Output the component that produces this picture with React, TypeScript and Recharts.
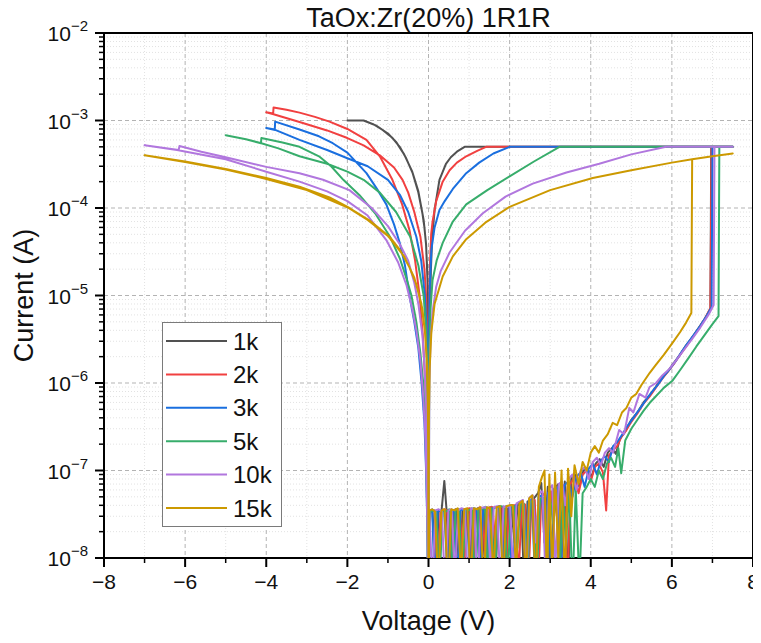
import React from 'react';
import { LineChart, Line, XAxis, YAxis, CartesianGrid, Legend, ReferenceArea, Customized } from 'recharts';

type Pt = [number, number];

const FONT = '"Liberation Sans", Arial, Helvetica, sans-serif';

const seriesNames = ['1k', '2k', '3k', '5k', '10k', '15k'];
const seriesColors = ['#515151', '#F14040', '#1A6FDF', '#37AD6B', '#B177DE', '#CC9900'];

// ---- 1k ----
const neg1k: Pt[] = [
  [0, 1e-9], [-0.002, 1e-6], [-0.006, 3.5e-6], [-0.015, 9e-6], [-0.03, 1.9e-5], [-0.06, 3.8e-5], [-0.1, 6e-5],
  [-0.15, 8.7e-5], [-0.25, 1.5e-4], [-0.39, 2.5e-4], [-0.55, 3.7e-4], [-0.71, 5e-4], [-0.9, 6.4e-4], [-1.13, 7.8e-4],
  [-1.35, 9e-4], [-1.6, 1e-3], [-2.0, 1e-3],
  [-1.6, 1e-3], [-1.3, 8.8e-4], [-1.0, 7.1e-4], [-0.8, 5.7e-4], [-0.6, 4.1e-4], [-0.4, 2.6e-4], [-0.25, 1.55e-4],
  [-0.12, 7.3e-5], [-0.06, 3.9e-5], [-0.02, 1.3e-5], [-0.005, 3e-6], [0, 1e-9],
];
const pos1k: Pt[] = [
  [0.02, 3.4e-8], [0.1, 3.3e-8], [0.18, 5e-9], [0.25, 3.5e-8], [0.32, 3.4e-8], [0.39, 7.6e-8], [0.45, 3.3e-8], [0.52, 4e-9],
  [0.6, 3.5e-8], [0.68, 3.6e-8], [0.76, 6e-9], [0.84, 3.5e-8], [0.92, 3.6e-8], [1.0, 3.4e-8], [1.08, 5e-9], [1.16, 3.6e-8],
  [1.24, 3.7e-8], [1.32, 8e-9], [1.4, 3.6e-8], [1.48, 3.7e-8], [1.56, 3.8e-8], [1.64, 4e-9], [1.72, 3.8e-8], [1.8, 3.7e-8],
  [1.88, 6e-9], [1.96, 3.8e-8], [2.04, 3.9e-8], [2.12, 1.5e-8], [2.2, 4e-8], [2.28, 4.1e-8], [2.36, 5e-9], [2.44, 4.4e-8],
  [2.52, 4.6e-8], [2.6, 4.8e-8], [2.7, 5.5e-8], [2.78, 7.2e-8], [2.86, 1.5e-8], [2.94, 6.5e-8], [3.02, 4e-9], [3.1, 6.2e-8],
  [3.2, 7e-8], [3.28, 1.2e-8], [3.36, 7.5e-8], [3.44, 5e-9], [3.52, 8e-8], [3.62, 9e-8], [3.72, 6.5e-8], [3.82, 1e-7],
  [3.92, 1.05e-7], [4.02, 8.5e-8], [4.12, 1.2e-7], [4.22, 1.35e-7], [4.32, 1.1e-7], [4.42, 1.6e-7], [4.52, 1.8e-7],
  [4.62, 1.55e-7], [4.72, 2.3e-7], [4.85, 2.8e-7], [5.0, 3.8e-7], [5.15, 4.6e-7], [5.3, 6e-7], [5.45, 7.2e-7], [5.6, 9e-7],
  [5.75, 1.15e-6], [5.9, 1.35e-6], [6.05, 1.7e-6], [6.2, 2.1e-6], [6.35, 2.7e-6], [6.5, 3.3e-6], [6.65, 4.2e-6],
  [6.8, 5.3e-6], [6.95, 7e-6], [6.97, 5e-4], [7.5, 5e-4], [0.89, 5e-4], [0.7, 4.4e-4], [0.55, 3.8e-4], [0.43, 3.2e-4],
  [0.27, 2.1e-4], [0.15, 9.5e-5], [0.09, 4.5e-5], [0.06, 2e-5], [0.03, 6e-6], [0.01, 1.2e-6], [0, 1e-9],
];

// ---- 2k ----
const neg2k: Pt[] = [
  [0, 1e-9], [-0.003, 1.5e-7], [-0.008, 4e-7], [-0.015, 1e-6], [-0.03, 3e-6], [-0.06, 1e-5], [-0.1, 2e-5], [-0.2, 4.7e-5],
  [-0.35, 9e-5], [-0.5, 1.5e-4], [-0.64, 2.1e-4], [-0.85, 2.9e-4], [-1.2, 4e-4], [-1.6, 5.2e-4], [-2.0, 6.3e-4],
  [-2.5, 7.7e-4], [-3.18, 9.6e-4], [-3.82, 1.18e-3], [-4.0, 1.24e-3], [-3.83, 1.2e-3], [-3.82, 1.41e-3],
  [-3.5, 1.33e-3], [-3.18, 1.23e-3], [-2.8, 1.1e-3], [-2.44, 9.7e-4], [-2.0, 8e-4], [-1.53, 6e-4], [-1.2, 3.9e-4],
  [-0.89, 2.1e-4], [-0.65, 1.1e-4], [-0.47, 5.6e-5], [-0.33, 2.5e-5], [-0.22, 1e-5], [-0.14, 3.5e-6], [-0.08, 1e-6],
  [-0.05, 3.5e-7], [-0.03, 1e-7], [-0.015, 2e-8], [0, 1e-9],
];
const pos2k: Pt[] = [
  [0.02, 3.5e-8], [0.08, 3.4e-8], [0.15, 3.5e-8], [0.22, 6e-9], [0.3, 3.4e-8], [0.38, 3.6e-8], [0.46, 3.5e-8], [0.54, 5e-9],
  [0.62, 3.5e-8], [0.7, 3.6e-8], [0.78, 3.5e-8], [0.86, 4e-9], [0.94, 3.6e-8], [1.02, 3.7e-8], [1.1, 7e-9], [1.18, 3.6e-8],
  [1.26, 3.8e-8], [1.34, 3.7e-8], [1.42, 5e-9], [1.5, 3.8e-8], [1.58, 3.8e-8], [1.66, 1.2e-8], [1.74, 3.9e-8], [1.82, 3.8e-8],
  [1.9, 4e-9], [1.98, 3.9e-8], [2.06, 4e-8], [2.14, 4e-8], [2.22, 6e-9], [2.3, 4.2e-8], [2.38, 4.1e-8], [2.46, 5e-9],
  [2.54, 4.4e-8], [2.62, 4.6e-8], [2.7, 4e-9], [2.78, 5e-8], [2.86, 5.5e-8], [2.94, 8e-9], [3.02, 5.8e-8], [3.1, 3e-8],
  [3.18, 6.5e-8], [3.26, 5e-9], [3.34, 6.8e-8], [3.42, 4e-9], [3.5, 7e-8], [3.6, 8.5e-8], [3.7, 5.5e-8], [3.8, 9e-8],
  [3.9, 1e-7], [4.0, 7.5e-8], [4.1, 1.1e-7], [4.2, 1.2e-7], [4.3, 9.5e-8], [4.38, 3.5e-8], [4.45, 1.5e-7], [4.55, 1.7e-7],
  [4.65, 1.9e-7], [4.75, 2.4e-7], [4.88, 2.9e-7], [5.0, 3.6e-7], [5.15, 4.5e-7], [5.3, 5.8e-7], [5.45, 7e-7], [5.6, 8.8e-7],
  [5.75, 1.1e-6], [5.9, 1.35e-6], [6.05, 1.65e-6], [6.2, 2.1e-6], [6.35, 2.6e-6], [6.5, 3.3e-6], [6.65, 4.1e-6],
  [6.8, 5.3e-6], [6.95, 7.2e-6], [6.98, 5e-4], [7.5, 5e-4], [1.42, 5e-4], [1.2, 4.5e-4], [0.93, 3.9e-4], [0.7, 3.3e-4],
  [0.52, 2.7e-4], [0.35, 2e-4], [0.19, 1.2e-4], [0.1, 7e-5], [0.066, 5e-5], [0.04, 2.5e-5], [0.02, 8e-6], [0.008, 2e-6],
  [0, 1e-9],
];

// ---- 3k ----
const neg3k: Pt[] = [
  [0, 1e-9], [-0.008, 2.5e-7], [-0.02, 1e-6], [-0.045, 4e-6], [-0.09, 1e-5], [-0.18, 2.5e-5], [-0.3, 4.7e-5], [-0.5, 9e-5],
  [-0.7, 1.4e-4], [-1.0, 2.1e-4], [-1.5, 3e-4], [-2.0, 3.7e-4], [-2.5, 4.6e-4], [-3.18, 6e-4], [-3.78, 7.8e-4],
  [-4.0, 8.2e-4], [-3.79, 7.9e-4], [-3.78, 9.7e-4], [-3.18, 7.9e-4], [-2.7, 6.6e-4], [-2.36, 5.5e-4], [-2.0, 4.3e-4],
  [-1.53, 2.5e-4], [-1.25, 1.6e-4], [-1.04, 1.1e-4], [-0.85, 6.5e-5], [-0.71, 4e-5], [-0.58, 2.2e-5], [-0.47, 1e-5],
  [-0.35, 5e-6], [-0.25, 2.5e-6], [-0.17, 1e-6], [-0.1, 3.5e-7], [-0.06, 1e-7], [-0.03, 2.5e-8], [0, 1e-9],
];
const pos3k: Pt[] = [
  [0.02, 3.2e-8], [0.09, 3.6e-8], [0.16, 4e-9], [0.23, 3.4e-8], [0.31, 3.5e-8], [0.39, 3.4e-8], [0.47, 6e-9], [0.55, 3.5e-8],
  [0.63, 3.4e-8], [0.71, 5e-9], [0.79, 3.6e-8], [0.87, 3.5e-8], [0.95, 3.6e-8], [1.03, 4e-9], [1.11, 3.7e-8], [1.19, 3.6e-8],
  [1.27, 6e-9], [1.35, 3.7e-8], [1.43, 3.8e-8], [1.51, 5e-9], [1.59, 3.7e-8], [1.67, 3.8e-8], [1.75, 3.9e-8], [1.83, 7e-9],
  [1.91, 3.9e-8], [1.99, 3.8e-8], [2.07, 4e-9], [2.15, 4e-8], [2.23, 4.3e-8], [2.31, 4.5e-8], [2.39, 1e-8], [2.47, 4.5e-8],
  [2.55, 4.7e-8], [2.63, 5e-9], [2.71, 5e-8], [2.79, 5.2e-8], [2.87, 2e-8], [2.95, 5.6e-8], [3.03, 5e-9], [3.11, 6e-8],
  [3.19, 6.5e-8], [3.27, 7e-9], [3.35, 6.8e-8], [3.45, 7.5e-8], [3.55, 5e-8], [3.65, 8.5e-8], [3.75, 9.5e-8], [3.85, 6.5e-8],
  [3.95, 1.05e-7], [4.05, 1.2e-7], [4.15, 9e-8], [4.25, 1.3e-7], [4.35, 1.45e-7], [4.45, 1.25e-7], [4.55, 1.9e-7],
  [4.65, 2.1e-7], [4.78, 2.6e-7], [4.9, 3.2e-7], [5.05, 4e-7], [5.2, 5e-7], [5.35, 6.3e-7], [5.5, 7.8e-7], [5.65, 9.5e-7],
  [5.8, 1.2e-6], [5.95, 1.45e-6], [6.1, 1.8e-6], [6.25, 2.3e-6], [6.4, 2.9e-6], [6.55, 3.6e-6], [6.7, 4.5e-6],
  [6.85, 5.8e-6], [6.98, 7.4e-6], [7.0, 5e-4], [7.5, 5e-4], [2.0, 5e-4], [1.6, 4.2e-4], [1.25, 3.3e-4], [0.93, 2.5e-4],
  [0.6, 1.65e-4], [0.4, 1.2e-4], [0.27, 9.5e-5], [0.15, 6e-5], [0.07, 3.3e-5], [0.03, 1.2e-5], [0.01, 3e-6], [0, 1e-9],
];

// ---- 5k ----
const neg5k: Pt[] = [
  [0, 1e-9], [-0.012, 2.5e-7], [-0.03, 1e-6], [-0.06, 4e-6], [-0.12, 1e-5], [-0.25, 2.2e-5], [-0.45, 4.7e-5], [-0.8, 9e-5],
  [-1.2, 1.5e-4], [-1.6, 2.1e-4], [-2.0, 2.6e-4], [-2.5, 3.2e-4], [-3.18, 3.9e-4], [-3.7, 4.8e-4], [-4.12, 5.5e-4],
  [-4.5, 6.1e-4], [-5.0, 6.8e-4], [-4.5, 6.1e-4], [-4.13, 5.5e-4], [-4.12, 6.3e-4], [-3.6, 5.6e-4], [-3.18, 5e-4],
  [-2.7, 3.9e-4], [-2.4, 3e-4], [-2.1, 2.1e-4], [-1.7, 1.4e-4], [-1.3, 8.5e-5], [-0.95, 4.7e-5], [-0.7, 2.6e-5],
  [-0.55, 1.6e-5], [-0.42, 1e-5], [-0.3, 5e-6], [-0.2, 2.2e-6], [-0.13, 1e-6], [-0.08, 3.5e-7], [-0.05, 1e-7],
  [-0.025, 2.5e-8], [0, 1e-9],
];
const pos5k: Pt[] = [
  [0.03, 3.3e-8], [0.11, 3.5e-8], [0.19, 3.4e-8], [0.27, 5e-9], [0.35, 3.5e-8], [0.43, 3.4e-8], [0.51, 3.6e-8], [0.59, 7e-9],
  [0.67, 3.5e-8], [0.75, 3.6e-8], [0.83, 5e-9], [0.91, 3.6e-8], [0.99, 3.5e-8], [1.07, 3.7e-8], [1.15, 4e-9], [1.23, 3.7e-8],
  [1.31, 3.6e-8], [1.39, 3.8e-8], [1.47, 6e-9], [1.55, 3.7e-8], [1.63, 5e-9], [1.71, 3.8e-8], [1.79, 3.9e-8], [1.87, 3.8e-8],
  [1.95, 5e-9], [2.03, 4e-8], [2.11, 3.9e-8], [2.19, 1.3e-8], [2.27, 4.1e-8], [2.35, 4.2e-8], [2.43, 4e-9], [2.51, 4.4e-8],
  [2.59, 4.5e-8], [2.67, 6e-9], [2.75, 4.7e-8], [2.83, 4.9e-8], [2.91, 5e-9], [2.99, 5.2e-8], [3.07, 2.5e-8], [3.15, 5.5e-8],
  [3.23, 5e-9], [3.31, 5.8e-8], [3.39, 1.5e-8], [3.47, 6e-8], [3.55, 4e-9], [3.63, 6.2e-8], [3.72, 5e-9], [3.8, 5.5e-8],
  [3.9, 6.5e-8], [4.0, 8e-8], [4.1, 6.5e-8], [4.2, 1e-7], [4.3, 8e-8], [4.4, 1.2e-7], [4.5, 1.4e-7], [4.6, 1.1e-7],
  [4.68, 1.8e-7], [4.75, 9.3e-8], [4.85, 2.2e-7], [5.0, 3e-7], [5.15, 3.8e-7], [5.3, 4.8e-7], [5.45, 5.9e-7], [5.6, 7e-7],
  [5.8, 8.8e-7], [6.02, 1.07e-6], [6.2, 1.4e-6], [6.4, 1.9e-6], [6.6, 2.6e-6], [6.8, 3.5e-6], [7.0, 4.7e-6], [7.15, 5.8e-6],
  [7.17, 5e-4], [7.5, 5e-4], [3.23, 5e-4], [2.6, 3.4e-4], [2.0, 2.3e-4], [1.45, 1.6e-4], [0.93, 1.1e-4], [0.6, 7e-5],
  [0.35, 4e-5], [0.2, 2.5e-5], [0.1, 1.5e-5], [0.05, 7e-6], [0.02, 2.5e-6], [0, 1e-9],
];

// ---- 10k ----
const neg10k: Pt[] = [
  [0, 1e-9], [-0.015, 5e-8], [-0.035, 2e-7], [-0.06, 6e-7], [-0.1, 1.6e-6], [-0.15, 3.5e-6], [-0.25, 8e-6], [-0.35, 1.4e-5],
  [-0.5, 2.5e-5], [-0.7, 3.8e-5], [-1.0, 6.2e-5], [-1.4, 1e-4], [-1.95, 1.6e-4], [-2.6, 2.1e-4], [-3.18, 2.5e-4],
  [-4.0, 2.95e-4], [-5.0, 3.8e-4], [-5.6, 4.4e-4], [-6.14, 5.1e-4], [-6.16, 4.6e-4], [-7.0, 5.2e-4], [-6.2, 4.6e-4],
  [-5.0, 3.6e-4], [-4.0, 2.6e-4], [-3.18, 2.0e-4], [-2.5, 1.55e-4], [-2.0, 1.2e-4], [-1.5, 8.2e-5], [-1.04, 4.3e-5],
  [-0.75, 2.4e-5], [-0.54, 1.3e-5], [-0.4, 7e-6], [-0.3, 4e-6], [-0.2, 1.8e-6], [-0.13, 7e-7], [-0.08, 2.5e-7],
  [-0.05, 8e-8], [-0.025, 2e-8], [0, 1e-9],
];
const pos10k: Pt[] = [
  [0.02, 3.4e-8], [0.1, 5e-9], [0.17, 3.5e-8], [0.25, 3.6e-8], [0.33, 3.4e-8], [0.41, 4e-9], [0.49, 3.5e-8], [0.57, 3.6e-8],
  [0.65, 6e-9], [0.73, 3.5e-8], [0.81, 3.7e-8], [0.89, 3.6e-8], [0.97, 5e-9], [1.05, 3.7e-8], [1.13, 3.6e-8], [1.21, 4e-9],
  [1.29, 3.7e-8], [1.37, 3.8e-8], [1.45, 3.7e-8], [1.53, 7e-9], [1.61, 3.8e-8], [1.69, 3.9e-8], [1.77, 5e-9], [1.85, 3.9e-8],
  [1.93, 3.8e-8], [2.01, 4e-8], [2.09, 6e-9], [2.17, 4.2e-8], [2.25, 4.4e-8], [2.33, 4.6e-8], [2.41, 5e-9], [2.49, 4.9e-8],
  [2.57, 5.2e-8], [2.65, 1.5e-8], [2.73, 5.5e-8], [2.81, 5.8e-8], [2.89, 5e-9], [2.97, 6.2e-8], [3.05, 6.8e-8], [3.13, 8e-9],
  [3.21, 7e-8], [3.29, 7.5e-8], [3.37, 4e-8], [3.45, 8e-8], [3.55, 9e-8], [3.65, 6e-8], [3.75, 1e-7], [3.85, 1.1e-7],
  [3.95, 8e-8], [4.05, 1.25e-7], [4.15, 1.4e-7], [4.25, 1.15e-7], [4.35, 1.6e-7], [4.45, 1.8e-7], [4.55, 1.6e-7],
  [4.7, 2.9e-7], [4.82, 2.6e-7], [4.95, 5.2e-7], [5.05, 4.6e-7], [5.2, 7.5e-7], [5.35, 6.8e-7], [5.45, 9e-7], [5.61, 1e-6],
  [5.75, 1.2e-6], [5.94, 1.45e-6], [6.1, 1.8e-6], [6.3, 2.4e-6], [6.5, 3.2e-6], [6.7, 4.3e-6], [6.9, 6e-6], [7.03, 7.8e-6],
  [7.05, 5e-4], [7.5, 5e-4], [5.86, 5e-4], [5.0, 4.1e-4], [4.21, 3.2e-4], [3.4, 2.55e-4], [2.57, 1.9e-4], [1.9, 1.35e-4],
  [1.34, 8.7e-5], [0.9, 5.5e-5], [0.52, 3.1e-5], [0.3, 1.9e-5], [0.19, 1.26e-5], [0.1, 6.5e-6], [0.05, 3e-6], [0.02, 1e-6],
  [0, 1e-9],
];

// ---- 15k ----
const neg15k: Pt[] = [
  [0, 1e-9], [-0.002, 5e-8], [-0.008, 2.5e-7], [-0.02, 8e-7], [-0.04, 1.8e-6], [-0.08, 3.6e-6], [-0.15, 7e-6],
  [-0.3, 1.35e-5], [-0.47, 2.1e-5], [-0.7, 3.3e-5], [-0.96, 4.7e-5], [-1.45, 7.2e-5], [-1.95, 1e-4], [-2.44, 1.32e-4],
  [-3.18, 1.75e-4], [-4.0, 2.2e-4], [-5.0, 2.8e-4], [-6.0, 3.4e-4], [-7.0, 4e-4],
  [-6.0, 3.35e-4], [-5.0, 2.75e-4], [-4.0, 2.15e-4], [-3.0, 1.6e-4], [-2.0, 1.02e-4], [-1.5, 7.3e-5], [-1.0, 4.8e-5],
  [-0.6, 2.8e-5], [-0.35, 1.6e-5], [-0.18, 8.2e-6], [-0.09, 4e-6], [-0.045, 1.9e-6], [-0.02, 7.5e-7], [-0.006, 1.8e-7],
  [0, 1e-9],
];
const pos15k: Pt[] = [
  [0.02, 3.5e-8], [0.09, 3.6e-8], [0.16, 3.4e-8], [0.24, 5e-9], [0.32, 3.5e-8], [0.4, 3.6e-8], [0.48, 4e-9], [0.56, 3.6e-8],
  [0.64, 3.5e-8], [0.72, 3.7e-8], [0.8, 6e-9], [0.88, 3.6e-8], [0.96, 3.7e-8], [1.04, 5e-9], [1.12, 3.7e-8], [1.2, 3.6e-8],
  [1.28, 3.8e-8], [1.36, 4e-9], [1.44, 3.8e-8], [1.52, 3.7e-8], [1.6, 6e-9], [1.68, 3.8e-8], [1.76, 3.9e-8], [1.84, 5e-9],
  [1.92, 3.9e-8], [2.0, 4e-8], [2.08, 4e-8], [2.16, 7e-9], [2.24, 4.2e-8], [2.32, 4.5e-8], [2.4, 5e-9], [2.48, 4.8e-8],
  [2.56, 5.2e-8], [2.64, 4e-9], [2.72, 6.5e-8], [2.8, 8.5e-8], [2.86, 1e-7], [2.92, 5e-9], [2.98, 9e-8], [3.05, 6e-9],
  [3.12, 9.5e-8], [3.2, 1e-8], [3.28, 1e-7], [3.36, 5e-9], [3.44, 1.05e-7], [3.52, 3e-8], [3.6, 1.15e-7], [3.7, 7e-8],
  [3.8, 1.25e-7], [3.9, 1e-7], [4.0, 1.6e-7], [4.1, 1.9e-7], [4.2, 1.6e-7], [4.3, 2.2e-7], [4.42, 2.6e-7], [4.54, 3.5e-7],
  [4.65, 3.3e-7], [4.77, 4.6e-7], [4.88, 5.2e-7], [5.0, 6.8e-7], [5.12, 7.5e-7], [5.25, 9.5e-7], [5.45, 1.3e-6],
  [5.6, 1.6e-6], [5.8, 2.1e-6], [6.02, 2.9e-6], [6.2, 3.8e-6], [6.35, 4.9e-6], [6.48, 6.3e-6], [6.5, 3.6e-4],
  [7.0, 3.9e-4], [7.5, 4.2e-4], [7.0, 3.9e-4], [6.5, 3.6e-4], [6.0, 3.3e-4], [5.0, 2.7e-4], [4.05, 2.2e-4], [3.0, 1.6e-4],
  [2.0, 1.03e-4], [1.4, 6.8e-5], [0.93, 4.4e-5], [0.6, 2.8e-5], [0.35, 1.65e-5], [0.15, 8e-6], [0.07, 3.8e-6],
  [0.03, 1.5e-6], [0.01, 4e-7], [0, 1e-9],
];

const negSweeps = [neg1k, neg2k, neg3k, neg5k, neg10k, neg15k];
const posSweeps = [pos1k, pos2k, pos3k, pos5k, pos10k, pos15k];

// ---- ticks ----
const xMajorTicks = [-8, -6, -4, -2, 0, 2, 4, 6, 8];
const xMinorTicks = [-7, -5, -3, -1, 1, 3, 5, 7];
const yDecades = [1e-8, 1e-7, 1e-6, 1e-5, 1e-4, 1e-3, 1e-2];
const yMinorFactors = [2, 3, 4, 5, 6, 7, 8, 9];

const yMinorTicks = yDecades.slice(0, -1).flatMap((d) => yMinorFactors.map((f) => f * d));
const allXTicks = [...xMajorTicks, ...xMinorTicks].sort((a, b) => a - b);
const allYTicks = [...yDecades, ...yMinorTicks].sort((a, b) => a - b);

const series = seriesNames.map((name, k) => ({
  name,
  color: seriesColors[k],
  data: [...negSweeps[k], ...posSweeps[k]].map(([v, i]) => ({ v, i })),
}));

const X_TS = 9;
const X_TM = 7;
const Y_TS = 9;
const Y_TM = 7;

function XTick(props: any) {
  const { x, y, payload } = props;
  const v = Number(payload.value);
  const major = Math.abs(v % 2) < 1e-9;
  const ay = y - X_TS - X_TM;
  return (
    <g>
      <line x1={x} x2={x} y1={ay} y2={ay + (major ? 9 : 5)} stroke="#000" strokeWidth={major ? 2 : 1.5} />
      {major && (
        <text x={x} y={ay + 31} textAnchor="middle" fontSize={21} fill="#111" fontFamily={FONT}>
          {v < 0 ? '\u2212' + Math.abs(v) : String(v)}
        </text>
      )}
    </g>
  );
}

function YTick(props: any) {
  const { x, y, payload } = props;
  const v = Number(payload.value);
  const lg = Math.log10(v);
  const e = Math.round(lg);
  const major = Math.abs(lg - e) < 1e-6;
  const ax = x + Y_TS + Y_TM;
  return (
    <g>
      <line x1={ax} x2={ax - (major ? 9 : 5)} y1={y} y2={y} stroke="#000" strokeWidth={major ? 2 : 1.5} />
      {major && (
        <text x={x} y={y + 8} textAnchor="end" fontSize={21} fill="#111" fontFamily={FONT}>
          10
          <tspan dy={-10} fontSize={15}>{'\u2212' + Math.abs(e)}</tspan>
        </text>
      )}
    </g>
  );
}

function Titles() {
  return (
    <g fontFamily={FONT} fill="#111">
      <text x={428.5} y={27} textAnchor="middle" fontSize={27}>TaOx:Zr(20%) 1R1R</text>
      <text x={428.5} y={630} textAnchor="middle" fontSize={27}>Voltage (V)</text>
      <text x={33} y={295.5} textAnchor="middle" fontSize={27} transform="rotate(-90 33 295.5)">Current (A)</text>
    </g>
  );
}

function LegendBox(props: any) {
  const payload = [...(props.payload || [])].sort(
    (a: any, b: any) => seriesNames.indexOf(String(a.value)) - seriesNames.indexOf(String(b.value)),
  );
  return (
    <svg width={120} height={205} style={{ display: 'block' }}>
      <rect x={0.5} y={0.5} width={119} height={204} fill="#fff" stroke="#7a7a7a" strokeWidth={1} />
      {payload.map((e: any, i: number) => {
        const cy = 19 + i * 33.4;
        return (
          <g key={String(e.value)}>
            <line x1={4} x2={65} y1={cy} y2={cy} stroke={e.color} strokeWidth={2} />
            <text x={71} y={cy + 8.5} fontSize={24} fill="#111" fontFamily={FONT}>{e.value}</text>
          </g>
        );
      })}
    </svg>
  );
}

export default function App() {
  return (
    <div style={{ width: 761, height: 643, position: 'relative', background: '#fff', margin: -8 }}>
      <LineChart width={761} height={643} margin={{ top: 33, right: 8, bottom: 0, left: 0 }}>
        <CartesianGrid verticalValues={xMinorTicks} horizontalValues={yMinorTicks} stroke="#e2e2e2" strokeDasharray="1 2" />
        <CartesianGrid verticalValues={xMajorTicks} horizontalValues={yDecades} stroke="#b3b3b3" strokeDasharray="4 3" />
        <XAxis
          type="number"
          dataKey="v"
          domain={[-8, 8]}
          ticks={allXTicks}
          interval={0}
          allowDataOverflow
          height={85}
          tickLine={false}
          axisLine={false}
          tickSize={X_TS}
          tickMargin={X_TM}
          tick={(p: any) => <XTick {...p} />}
        />
        <YAxis
          type="number"
          scale="log"
          domain={[1e-8, 1e-2]}
          ticks={allYTicks}
          interval={0}
          allowDataOverflow
          width={104}
          tickLine={false}
          axisLine={false}
          tickSize={Y_TS}
          tickMargin={Y_TM}
          tick={(p: any) => <YTick {...p} />}
        />
        {series.map((s) => (
          <Line
            key={s.name}
            data={s.data}
            dataKey="i"
            name={s.name}
            type="linear"
            stroke={s.color}
            strokeWidth={2}
            strokeLinejoin="round"
            dot={false}
            activeDot={false}
            isAnimationActive={false}
          />
        ))}
        <ReferenceArea x1={-8} x2={8} y1={1e-8} y2={1e-2} fill="none" stroke="#000" strokeWidth={2} ifOverflow="visible" />
        <Legend
          layout="vertical"
          align="center"
          verticalAlign="middle"
          wrapperStyle={{ position: 'absolute', left: 162, top: 322, width: 120, height: 205 }}
          content={(p: any) => <LegendBox payload={p.payload} />}
        />
        <Customized component={<Titles />} />
      </LineChart>
    </div>
  );
}
